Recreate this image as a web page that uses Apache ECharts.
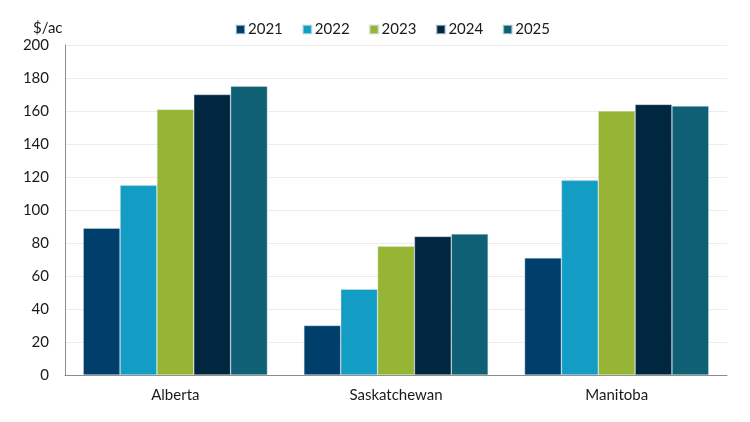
<!DOCTYPE html>
<html>
<head>
<meta charset="utf-8">
<script src="https://cdn.jsdelivr.net/npm/echarts@6/dist/echarts.min.js"></script>
<style>
  html, body { margin: 0; padding: 0; background: #fff; }
  #chart { width: 750px; height: 422px; }
</style>
</head>
<body>
<div id="chart"></div>
<script>
var chart = echarts.init(document.getElementById('chart'));

// provinces - dimension
var provincias = ['Alberta', 'Saskatchewan', 'Manitoba'];
// $/ac by year
var y2021 = [89, 30, 71];
var y2022 = [115, 52, 118];
var y2023 = [161, 78, 160];
var y2024 = [170, 84, 164];
var y2025 = [175, 85.5, 163];
var years = ['2021', '2022', '2023', '2024', '2025'];
var colores = ['#003f6b', '#149dc4', '#97b534', '#002640', '#0f6075'];

var datos = [y2021, y2022, y2023, y2024, y2025];

var option = {
    textStyle: { fontFamily: 'Lato' },
    title: {
        text: '$/ac', left: 28, top: 16,
        textStyle: { fontFamily: 'Lato', fontSize: 15, fontWeight: 'normal', color: '#1a1a1a' }
    },
    legend: {
        data: years,
        left: 230, top: 17,
        icon: 'rect', itemWidth: 9, itemHeight: 9, itemGap: 19,
        textStyle: { fontFamily: 'Lato', fontSize: 15, color: '#1a1a1a', padding: [0, 0, 0, -2] }
    },
    grid: { left: 65, right: 23, top: 45, bottom: 47 },
    xAxis: {
        type: 'category', data: provincias,
        axisLine: { lineStyle: { color: '#8c8c8c', width: 1 } },
        axisTick: { show: false },
        axisLabel: { fontFamily: 'Lato', fontSize: 15, color: '#1a1a1a', margin: 13 }
    },
    yAxis: {
        type: 'value', min: 0, max: 200, interval: 20,
        axisLine: { show: true, lineStyle: { color: '#8c8c8c', width: 1 } },
        axisTick: { show: false },
        axisLabel: { fontFamily: 'Lato', fontSize: 15, color: '#1a1a1a', margin: 16 },
        splitLine: { lineStyle: { color: '#ececec', width: 1 } }
    },
    series: years.map(function (y, i) {
        return {
            name: y, type: 'bar', data: datos[i],
            barGap: '0%', barCategoryGap: '16.5%',
            itemStyle: { color: colores[i], borderColor: 'rgba(220,235,240,0.6)', borderWidth: 0.6 }
        };
    })
};

chart.setOption(option);
</script>
</body>
</html>
